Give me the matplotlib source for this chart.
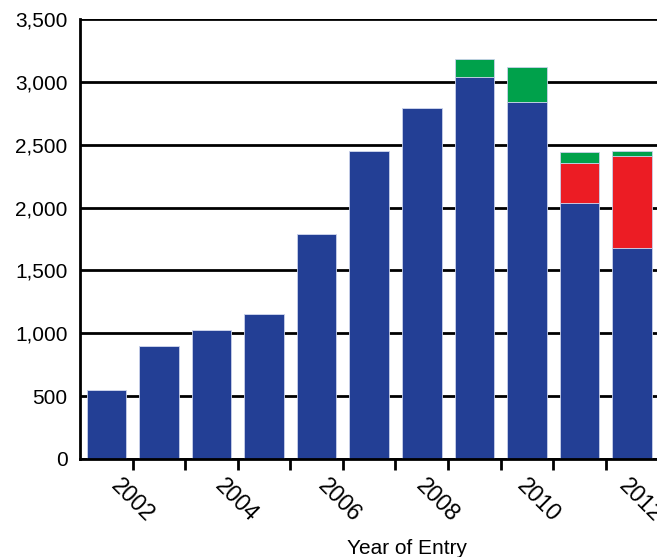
import matplotlib
matplotlib.use('Agg')
import matplotlib.pyplot as plt
from matplotlib.ticker import FuncFormatter, MultipleLocator, FixedLocator
import numpy as np

# data, one bar per year interval
years = [2001, 2002, 2003, 2004, 2005, 2006, 2007, 2008, 2009, 2010, 2011]
blue = [550, 900, 1030, 1150, 1790, 2450, 2790, 3040, 2840, 2035, 1680]
red = [0, 0, 0, 0, 0, 0, 0, 0, 0, 322, 730]
green = [0, 0, 0, 0, 0, 0, 0, 140, 280, 83, 42]
label_years = [2002, 2004, 2006, 2008, 2010, 2012]
# the original's year labels drift a little left of their tick marks
label_shift = [0.0, -0.03, -0.06, -0.21, -0.29, -0.35]

plt.rcParams['font.family'] = ['Liberation Sans', 'DejaVu Sans']

fig = plt.figure(figsize=(6.57, 5.57), dpi=100)
# axes runs past the right edge of the picture, like the cropped original
ax = fig.add_axes([80 / 657, 98 / 557, 631 / 657, 440 / 557])

x = np.array(years) + 0.5
w = 0.75
ec = '#c9d1ea'
ax.bar(x, blue, w, color='#233f95', edgecolor=ec, linewidth=0.6)
ax.bar(x, red, w, bottom=blue, color='#ec1c24', edgecolor=ec, linewidth=0.6)
ax.bar(x, green, w, bottom=np.array(blue) + np.array(red), color='#00a14b', edgecolor=ec, linewidth=0.6)

ax.set_xlim(2001, 2013)
ax.set_ylim(0, 3500)
ax.yaxis.set_major_locator(MultipleLocator(500))
ax.yaxis.set_major_formatter(FuncFormatter(lambda v, p: f'{int(v):,}'))
ax.grid(axis='y', color='black', linewidth=2)
ax.set_axisbelow(True)

# tick marks at every year boundary, labels placed on their own
ax.xaxis.remove_overlapping_locs = False
ax.xaxis.set_minor_locator(FixedLocator(list(range(2002, 2014))))
ax.set_xticks(np.array(label_years) + np.array(label_shift))
ax.set_xticklabels([str(y) for y in label_years], rotation=-45, fontsize=16.5)
ax.tick_params(axis='x', which='minor', length=8, width=2, color='black')
ax.tick_params(axis='x', which='major', length=0, pad=11)
ax.tick_params(axis='y', length=0, pad=9, labelsize=15)

for s in ['top', 'right']:
    ax.spines[s].set_visible(False)
ax.spines['left'].set_linewidth(2)
ax.spines['bottom'].set_linewidth(2)

ax.set_xlabel('Year of Entry', fontsize=15)
ax.xaxis.set_label_coords(0.518, -0.182)

fig.savefig('out.png', dpi=100)
